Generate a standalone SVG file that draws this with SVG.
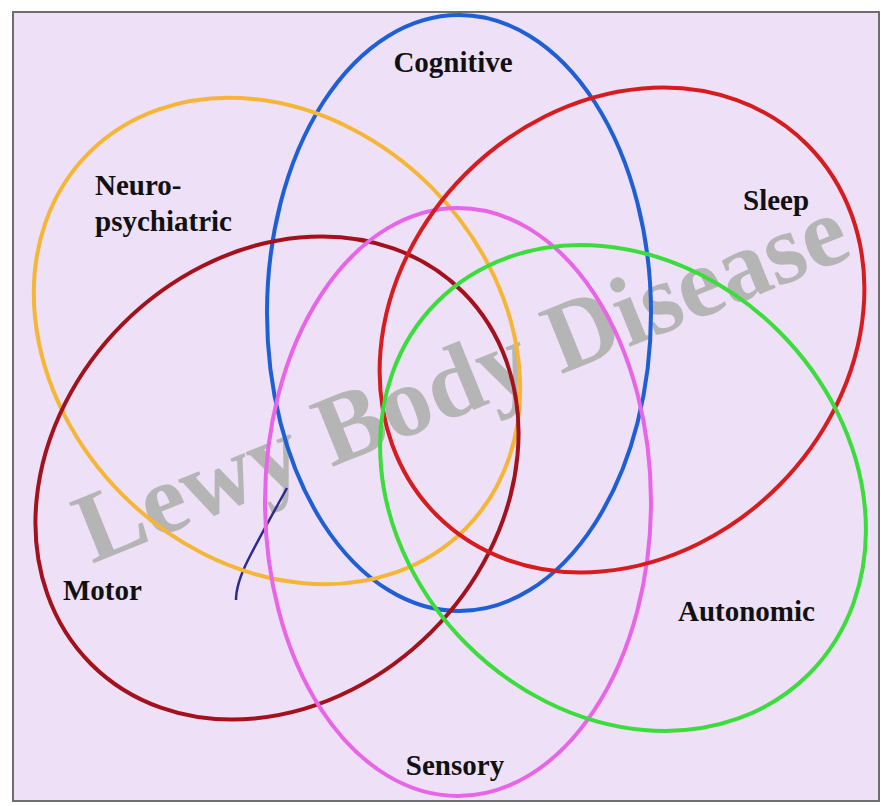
<svg xmlns="http://www.w3.org/2000/svg" width="881" height="806" viewBox="0 0 881 806">
<style>
.lbl{font-family:"Liberation Serif","Times New Roman",serif;font-weight:bold;font-size:29px;fill:#111111}
.wm{font-family:"Liberation Serif","Times New Roman",serif;font-weight:bold;font-size:100px;fill:#b5b5b5}
.ring{fill:none;stroke-width:4}
</style>
<rect x="0" y="0" width="881" height="806" fill="#ffffff"/>
<rect x="13" y="12" width="866" height="789" fill="#eee0f6" stroke="#6e6e6e" stroke-width="2"/>
<text class="wm" x="92" y="564" transform="rotate(-22 92 564)">Lewy Body Disease</text>
<g id="connectors">
<path d="M287,488 C272,515 258,540 248,560 C240,576 236,590 236,600" fill="none" stroke="#2b2b8f" stroke-width="2.5"/>
</g>
<g id="cognitive">
<ellipse class="ring" cx="459" cy="313" rx="192" ry="298" stroke="#1f5fd6"/>
<text class="lbl" x="453" y="72" text-anchor="middle">Cognitive</text>
</g>
<g id="neuropsychiatric">
<ellipse class="ring" cx="277" cy="341" rx="266" ry="218" transform="rotate(45 277 341)" stroke="#f5b638"/>
<text class="lbl" x="95" y="195">Neuro-</text>
<text class="lbl" x="95" y="231">psychiatric</text>
</g>
<g id="motor">
<ellipse class="ring" cx="277" cy="478" rx="263" ry="218" transform="rotate(-45 277 478)" stroke="#a3121c"/>
<text class="lbl" x="63" y="600">Motor</text>
</g>
<g id="sensory">
<ellipse class="ring" cx="458" cy="502" rx="193" ry="294" stroke="#e865e8" stroke-width="3.5"/>
<text class="lbl" x="455" y="775" text-anchor="middle">Sensory</text>
</g>
<g id="sleep">
<ellipse class="ring" cx="622" cy="330" rx="262" ry="221" transform="rotate(-45 622 330)" stroke="#d61c1f"/>
<text class="lbl" x="743" y="210">Sleep</text>
</g>
<g id="autonomic">
<ellipse class="ring" cx="623" cy="488" rx="263" ry="221" transform="rotate(45 623 488)" stroke="#3ddc3d"/>
<text class="lbl" x="678" y="621">Autonomic</text>
</g>
</svg>
